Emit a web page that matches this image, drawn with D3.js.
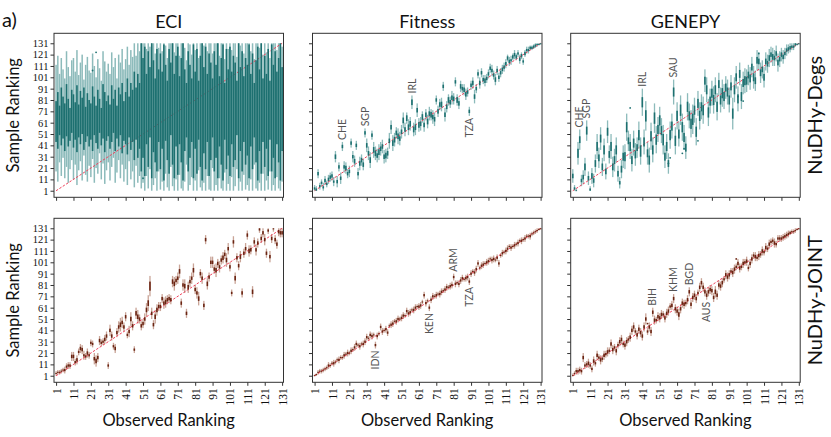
<!DOCTYPE html>
<html>
<head>
<meta charset="utf-8">
<title>Sample vs observed ranking</title>
<script src="https://d3js.org/d3.v7.min.js"></script>
<style>
  body { margin: 0; background: #fff; }
  svg { display: block; }
</style>
</head>
<body>
<script>
// ranking ticks and panel names
var tickVals = [1, 11, 21, 31, 41, 51, 61, 71, 81, 91, 101, 111, 121, 131];
var colNames = ["ECI", "Fitness", "GENEPY"];
var rowNames = ["NuDHy-Degs", "NuDHy-JOINT"];

// ---- NuDHy-Degs / ECI : whisker low, box low, box high, whisker high
var eciDegsLo = [
  18,9,26,14,30,12,22,8,20,28, 11,24,6,19,27,10,32,15,9,23,
  13,29,8,21,16,34,11,25,7,19, 26,10,22,30,8,17,28,12,24,9,
  20,6,27,11,18,4,23,8,14,3, 8,1,14,3,20,1,6,12,1,18,
  2,9,1,16,4,1,22,5,1,11, 1,15,3,1,9,24,1,6,13,1,
  10,1,19,4,1,8,1,14,2,1, 21,1,6,1,12,3,1,17,1,7,
  1,13,1,5,20,1,9,1,15,2, 6,1,11,1,24,3,1,8,1,16,
  1,10,2,18,1,6,1,13,3,1, 9];
var eciDegsQ1 = [
  44,38,50,41,47,36,49,40,45,52, 39,46,35,48,42,51,37,44,49,40,
  46,36,50,43,38,52,41,47,35,45, 49,38,44,52,36,47,40,50,34,45,
  42,33,48,37,44,28,46,30,38,18, 30,14,42,22,48,12,35,26,18,44,
  20,38,10,45,28,16,50,24,12,40, 15,42,26,10,36,48,18,30,44,12,
  38,16,46,22,10,34,20,44,14,28, 48,18,30,12,40,24,10,46,20,32,
  14,42,22,28,50,12,36,18,44,24, 32,12,40,20,48,26,10,36,16,44,
  22,38,14,46,18,30,12,42,26,10, 36];
var eciDegsQ3 = [
  80,88,76,92,84,78,95,82,74,90, 86,79,94,77,89,83,92,75,87,81,
  78,93,84,76,90,82,74,95,88,80, 85,77,94,82,90,76,92,86,96,80,
  88,100,84,96,90,106,92,104,96,131, 118,128,104,124,110,131,116,100,126,108,
  122,106,130,112,98,126,114,131,104,120, 128,102,118,131,108,96,124,112,100,130,
  106,126,98,120,131,110,128,104,122,114, 100,124,112,131,102,118,130,96,126,108,
  128,106,120,114,98,131,110,124,102,118, 112,130,104,122,96,116,128,108,131,100,
  120,104,126,98,130,112,124,106,118,131, 110];
var eciDegsHi = [
  112,120,104,118,108,100,124,110,102,116, 118,106,125,103,114,121,99,112,119,107,
  105,122,111,101,117,109,98,124,115,106, 113,104,123,110,118,100,121,114,126,108,
  117,128,112,125,119,131,120,131,124,131, 131,131,126,131,128,131,131,122,131,127,
  131,124,131,129,118,131,131,131,123,131, 131,120,131,131,127,116,131,130,121,131,
  125,131,118,131,131,129,131,124,131,131, 122,131,131,131,120,131,131,117,131,126,
  131,125,131,131,119,131,129,131,122,131, 131,131,124,131,117,131,131,127,131,121,
  131,123,131,118,131,131,131,125,131,131, 128];
var eciDegsOut = [[22, 107], [24, 123], [51, 12]];

// ---- NuDHy-Degs / Fitness : median, box height (IQR), half whisker span
var fitDegsMed = [
  3,2,16,5,8,4,10,7,11,13, 14,9,31,9,22,12,40,22,21,16,
  18,43,31,27,41,16,25,28,24,52, 41,34,28,50,37,34,32,35,38,40,
  31,32,34,45,57,43,46,52,49,47, 53,63,55,65,57,60,79,55,57,72,
  59,60,66,59,68,62,69,68,66,64, 81,71,77,77,93,68,75,81,79,83,
  82,97,81,78,93,91,90,86,88,71, 94,96,84,91,104,96,105,99,98,100,
  104,109,107,103,99,107,101,105,108,110, 113,118,115,116,119,121,119,122,117,120,
  115,122,125,125,127,127,128,129,130,130, 131];
var fitDegsIqr = [
  2,2,3,2,2,2,3,2,3,3, 3,2,4,3,3,3,3,3,4,3,
  3,3,3,4,3,3,4,4,4,3, 4,4,5,3,5,5,4,5,4,4,
  4,5,4,4,4,5,5,4,5,4, 4,5,4,5,5,5,5,5,5,4,
  5,4,5,4,4,5,4,5,4,4, 3,4,4,5,3,4,4,5,4,4,
  4,3,5,4,4,3,4,4,3,3, 3,4,4,3,3,4,3,3,4,3,
  3,3,3,3,4,3,3,3,3,3, 3,3,3,2,3,3,3,2,3,3,
  2,3,2,2,2,2,2,2,1,1, 1];
var fitDegsWsk = [
  3,3,4,3,3,4,4,3,4,4, 4,4,5,5,4,5,4,5,5,4,
  5,4,5,5,4,5,6,5,5,4, 6,6,7,4,7,6,6,7,6,6,
  6,6,5,7,6,7,6,5,7,6, 6,7,6,5,7,6,6,6,7,6,
  6,6,5,6,5,6,6,5,6,6, 4,5,5,6,4,6,5,5,5,6,
  5,4,5,5,5,4,5,5,4,4, 4,5,6,4,4,5,4,4,5,4,
  4,4,5,4,5,4,4,4,4,4, 4,3,4,4,3,4,3,3,4,3,
  3,3,3,3,2,2,2,2,2,1, 1];
var fitDegsOut = [];
var fitDegsTags = [["CHE", 17], ["SGP", 30], ["IRL", 57], ["TZA", 90]];

// ---- NuDHy-Degs / GENEPY
var genDegsMed = [
  14,3,1,34,46,10,13,22,54,12, 2,14,10,25,40,30,47,22,37,18,
  53,33,40,22,28,37,16,8,20,31, 31,57,45,40,28,43,33,39,50,36,
  79,44,67,34,28,49,37,65,46,55, 63,54,46,31,40,25,50,58,88,45,
  67,51,72,57,48,39,75,67,60,64, 72,53,78,67,75,72,98,90,70,80,
  87,81,90,75,95,81,87,84,92,88, 81,93,69,90,101,82,104,84,96,98,
  98,103,100,110,101,98,116,115,105,108, 101,115,113,118,121,119,118,122,114,117,
  121,119,122,125,126,127,128,128,130,130, 131];
var genDegsIqr = [
  4,2,1,8,6,3,4,6,7,4, 2,5,4,6,8,6,7,6,8,5,
  7,6,8,6,7,8,5,3,6,7, 8,9,6,8,7,8,7,6,9,10,
  9,8,10,7,8,9,8,10,9,8, 9,8,10,7,8,6,9,8,8,9,
  9,8,10,9,8,7,9,8,9,10, 8,9,8,9,8,9,7,8,9,8,
  8,9,8,9,7,8,9,8,7,8, 8,7,9,8,7,8,7,8,7,8,
  7,6,7,6,7,6,6,5,6,5, 6,5,5,5,4,5,4,4,5,4,
  4,4,3,3,3,3,2,2,2,1, 1];
var genDegsWsk = [
  6,3,2,10,9,5,6,8,9,6, 3,7,6,8,11,9,10,8,10,7,
  10,8,11,9,10,11,7,5,8,10, 11,12,9,11,10,11,10,9,12,12,
  12,11,13,10,11,12,11,13,12,11, 12,11,13,10,11,9,12,11,11,12,
  12,11,13,12,11,10,12,11,12,13, 11,12,11,12,11,12,10,11,12,11,
  11,12,11,12,10,11,12,11,10,11, 11,10,14,11,10,11,10,11,10,11,
  10,9,10,9,10,9,9,8,9,8, 9,8,8,8,7,8,7,7,8,7,
  6,6,5,5,4,4,3,3,2,1, 1];
var genDegsOut = [[34, 74], [56, 25], [57, 30], [64, 34], [65, 38], [73, 45], [96, 84], [99, 80], [108, 122]];
var genDegsTags = [["CHE", 5], ["SGP", 9], ["IRL", 41], ["SAU", 59]];

// ---- NuDHy-JOINT / ECI
var eciJointMed = [
  3,4,4,5,6,6,9,10,10,18, 18,13,15,22,25,24,19,18,21,19,
  30,29,16,14,17,32,30,31,33,36, 10,41,36,27,25,39,44,46,48,44,
  53,37,40,51,45,24,56,53,51,45, 47,51,59,65,80,56,46,53,59,62,
  62,69,65,66,68,69,68,84,82,85, 87,93,65,81,80,56,79,84,87,94,
  77,74,69,91,87,63,121,82,88,101, 101,95,94,100,97,103,105,108,103,113,
  97,74,119,87,105,98,106,74,109,113, 125,111,112,75,119,112,118,130,122,127,
  121,109,129,106,122,131,121,117,128,127, 127];
var eciJointIqr = [
  1,1,1,1,1,2,2,2,2,3, 3,2,3,2,3,3,2,2,3,2,
  2,2,3,4,3,3,2,2,3,3, 2,3,3,2,3,3,3,4,3,3,
  3,2,3,4,3,2,4,4,3,3, 3,3,4,5,8,3,3,4,4,3,
  3,3,3,4,3,3,3,4,4,3, 3,4,3,3,4,3,4,3,3,4,
  3,3,4,3,3,3,3,4,3,3, 3,3,4,3,3,3,4,3,4,3,
  3,2,3,4,3,3,4,3,3,3, 3,4,3,4,3,3,3,2,3,3,
  3,3,2,3,3,2,3,3,3,3, 3];
var eciJointWsk = [
  2,2,2,2,2,3,3,3,3,4, 4,3,4,3,4,4,4,3,4,3,
  3,3,5,5,4,4,3,3,4,4, 3,5,4,3,4,4,5,6,5,4,
  4,3,5,6,4,3,5,6,4,4, 4,5,6,7,9,5,4,6,5,4,
  4,4,5,5,4,4,4,5,6,4, 5,6,4,5,6,4,5,5,5,6,
  4,5,6,4,5,4,4,5,4,5, 5,4,6,4,5,4,5,4,6,5,
  4,3,5,5,4,4,5,4,4,5, 4,5,4,5,4,5,4,3,4,4,
  5,4,3,5,4,3,4,4,4,4, 4];
var eciJointOut = [];

// ---- NuDHy-JOINT / Fitness
var fitJointMed = [
  1,2,4,5,5,6,7,8,10,10, 12,12,13,15,15,17,17,19,20,21,
  21,23,24,26,29,28,27,29,29,31, 35,34,37,36,37,28,36,38,44,40,
  41,42,39,45,46,47,49,49,51,51, 52,54,54,58,56,57,59,59,61,62,
  62,63,66,72,65,67,61,68,71,71, 72,73,73,75,76,77,79,79,80,81,
  88,82,83,82,85,87,86,87,88,84, 91,93,92,95,100,96,98,99,100,101,
  102,104,103,104,103,105,100,107,109,110, 111,113,115,114,115,116,117,118,120,120,
  121,122,124,124,124,126,127,128,129,130, 131];
var fitJointIqr = [
  1,1,1,1,1,1,1,1,2,1, 1,2,1,1,2,1,1,2,1,2,
  1,2,1,2,2,1,2,1,2,2, 2,1,2,2,1,2,2,1,2,2,
  1,2,2,1,2,2,1,2,2,1, 2,2,1,2,2,2,1,2,2,1,
  2,2,1,2,2,1,2,2,2,1, 2,1,2,2,1,2,2,1,2,2,
  2,2,1,2,2,2,1,2,2,2, 2,1,2,2,2,1,2,2,1,2,
  2,1,2,2,1,2,2,1,2,1, 2,2,1,2,1,2,1,2,1,2,
  1,2,1,1,2,1,1,1,1,1, 1];
var fitJointWsk = [
  1,1,2,2,2,2,2,2,3,2, 2,3,2,2,3,2,2,3,2,3,
  2,3,2,3,3,2,3,2,3,3, 3,2,3,3,2,3,3,2,3,3,
  2,3,3,2,3,3,2,3,3,2, 3,3,2,3,3,3,2,3,3,2,
  3,3,2,3,3,2,3,3,3,2, 3,2,3,3,2,3,3,2,3,3,
  3,3,2,3,3,3,2,3,3,3, 3,2,3,3,3,2,3,3,2,3,
  3,2,3,3,2,3,3,2,3,2, 3,3,2,3,2,3,2,3,2,3,
  2,3,2,2,3,2,2,2,2,1, 1];
var fitJointOut = [];
var fitJointTags = [["IDN", 36], ["KEN", 67], ["ARM", 81], ["TZA", 90]];

// ---- NuDHy-JOINT / GENEPY
var genJointMed = [
  1,3,5,5,6,5,17,10,11,12, 10,7,14,12,19,17,15,16,19,20,
  22,23,29,24,26,23,28,31,33,29, 28,31,33,35,41,44,40,37,42,39,
  36,44,51,40,44,40,57,50,50,53, 52,55,55,52,56,58,62,63,69,60,
  58,55,60,65,64,65,68,75,64,70, 72,69,74,79,83,79,75,72,75,77,
  76,70,75,72,81,80,83,86,90,88, 90,93,92,95,97,100,96,97,100,101,
  102,96,100,104,107,106,105,107,108,111, 110,114,113,117,119,120,118,117,122,122,
  122,123,124,125,126,127,128,128,129,130, 131];
var genJointIqr = [
  1,1,2,2,2,2,3,2,2,3, 2,2,3,2,3,2,3,2,3,2,
  3,2,3,3,2,3,2,3,3,2, 3,3,2,3,3,3,2,3,3,3,
  3,3,3,2,3,3,3,3,2,3, 3,3,2,3,3,3,2,3,3,3,
  3,4,3,3,3,2,3,3,3,3, 3,3,2,3,3,3,3,3,3,3,
  3,3,4,3,3,3,3,2,3,3, 3,2,3,3,2,3,3,2,3,2,
  3,2,3,3,2,3,2,3,2,3, 2,3,2,3,2,2,3,2,2,2,
  2,2,2,2,2,2,1,1,1,1, 1];
var genJointWsk = [
  2,2,3,3,3,3,4,3,3,4, 3,3,4,3,4,3,4,3,4,3,
  4,3,4,4,3,4,3,4,4,3, 4,4,3,4,4,4,3,4,4,4,
  4,4,5,3,4,4,4,4,3,4, 4,4,3,4,4,4,3,4,4,4,
  4,5,4,4,4,3,4,4,4,4, 4,4,3,4,4,4,4,4,4,4,
  4,4,5,4,4,4,4,3,4,4, 4,3,4,4,3,4,4,3,4,3,
  4,3,4,4,3,4,3,4,3,4, 3,4,3,4,3,3,4,3,3,3,
  3,3,3,3,3,2,2,2,2,1, 1];
var genJointOut = [[95, 104], [44, 47]];
var genJointTags = [["BIH", 47], ["KHM", 59], ["BGD", 68], ["AUS", 78]];

// ------------------------------------------------------------------
function statsFromSpread(med, iqr, wsk) {
  return med.map(function(m, i) {
    return {
      u: i + 1, med: m,
      lo: Math.max(1, m - wsk[i]), hi: Math.min(131, m + wsk[i]),
      q1: Math.max(1, m - iqr[i] / 2), q3: Math.min(131, m + iqr[i] / 2)
    };
  });
}
function statsFromQuartiles(lo, q1, q3, hi) {
  return lo.map(function(l, i) {
    return {u: i + 1, med: (q1[i] + q3[i]) / 2, lo: l, q1: q1[i], q3: q3[i], hi: hi[i]};
  });
}

var panels = [
  {row: 0, col: 0, rows: statsFromQuartiles(eciDegsLo, eciDegsQ1, eciDegsQ3, eciDegsHi), out: eciDegsOut, tags: []},
  {row: 0, col: 1, rows: statsFromSpread(fitDegsMed, fitDegsIqr, fitDegsWsk), out: fitDegsOut, tags: fitDegsTags},
  {row: 0, col: 2, rows: statsFromSpread(genDegsMed, genDegsIqr, genDegsWsk), out: genDegsOut, tags: genDegsTags},
  {row: 1, col: 0, rows: statsFromSpread(eciJointMed, eciJointIqr, eciJointWsk), out: eciJointOut, tags: []},
  {row: 1, col: 1, rows: statsFromSpread(fitJointMed, fitJointIqr, fitJointWsk), out: fitJointOut, tags: fitJointTags},
  {row: 1, col: 2, rows: statsFromSpread(genJointMed, genJointIqr, genJointWsk), out: genJointOut, tags: genJointTags}
];

var rowColors = [
  {dark: "#1d7070", light: "#8dbbbb"},
  {dark: "#6a2412", light: "#c9a497"}
];

var W = 229.5, H = 164;
var lefts = [54, 312.5, 570.7];
var tops = [33.3, 218.3];
var sans = "Lato, 'Open Sans', sans-serif";
var serif = "'Liberation Serif', 'DejaVu Serif', serif";

var svg = d3.select("body").append("svg").attr("width", 831).attr("height", 437);
svg.append("rect").attr("width", 831).attr("height", 437).attr("fill", "#fff");

var x = d3.scaleLinear().domain([-0.2, 131.8]).range([0, W]);
var y = d3.scaleLinear().domain([-4.8, 139.8]).range([H, 0]);

panels.forEach(function(p) {
  var c = rowColors[p.row];
  var g = svg.append("g").attr("transform", "translate(" + lefts[p.col] + "," + tops[p.row] + ")");
  var rows = p.rows;
  var ww = p.row === 0 && p.col === 0 ? 1.5 : 1.3;

  // whiskers
  g.selectAll("rect.wh").data(rows).join("rect")
    .attr("class", "wh")
    .attr("x", function(d) { return x(d.u) - ww / 2; })
    .attr("width", ww)
    .attr("y", function(d) { return y(d.hi); })
    .attr("height", function(d) { return Math.max(0.8, y(d.lo) - y(d.hi)); })
    .attr("fill", c.light);

  // diagonal (drawn under the boxes)
  g.append("path")
    .attr("d", d3.line().x(function(d) { return x(d); }).y(function(d) { return y(d); })([1, 131]))
    .attr("stroke", "#f0405a")
    .attr("stroke-width", 1)
    .attr("stroke-dasharray", "2.4,1.6")
    .attr("fill", "none");

  // boxes
  g.selectAll("rect.bx").data(rows).join("rect")
    .attr("class", "bx")
    .attr("x", function(d) { return x(d.u) - 0.8; })
    .attr("width", 1.6)
    .attr("y", function(d) { return y(d.q3); })
    .attr("height", function(d) { return Math.max(1, y(d.q1) - y(d.q3)); })
    .attr("fill", c.dark);

  // fliers
  g.selectAll("circle.fl").data(p.out).join("circle")
    .attr("class", "fl")
    .attr("cx", function(d) { return x(d[0]); })
    .attr("cy", function(d) { return y(d[1]); })
    .attr("r", 0.9)
    .attr("fill", c.dark);

  // country tags
  p.tags.forEach(function(t) {
    var d = rows[t[1] - 1];
    var above = d.med > d.u;
    g.append("text")
      .attr("transform", "translate(" + x(d.u) + "," + (above ? y(d.hi) - 2 : y(d.lo) + 2) + ") rotate(-90)")
      .attr("dy", "0.35em")
      .attr("text-anchor", above ? "start" : "end")
      .attr("font-family", sans)
      .attr("font-size", "10.5px")
      .attr("fill", "#555")
      .text(t[0]);
  });

  // axes
  var ax = g.append("g").attr("transform", "translate(0," + H + ")")
    .call(d3.axisBottom(x).tickValues(tickVals).tickSize(3.5).tickPadding(2)
      .tickFormat(p.row === 1 ? d3.format("d") : function() { return ""; }));
  var ay = g.append("g")
    .call(d3.axisLeft(y).tickValues(tickVals).tickSize(3.5).tickPadding(2)
      .tickFormat(p.col === 0 ? d3.format("d") : function() { return ""; }));
  [ax, ay].forEach(function(a) {
    a.select(".domain").remove();
    a.selectAll("line").attr("stroke", "#333");
    a.selectAll("text").attr("font-family", serif).attr("font-size", "10.5px").attr("fill", "#111");
  });
  ax.selectAll("text")
    .attr("font-size", "11.5px")
    .attr("y", 0).attr("x", -6).attr("dy", "0.35em")
    .attr("transform", "rotate(-90)")
    .attr("text-anchor", "end");

  g.append("rect").attr("width", W).attr("height", H)
    .attr("fill", "none").attr("stroke", "#333").attr("stroke-width", 1);

  if (p.row === 0) {
    svg.append("text").attr("x", lefts[p.col] + W / 2).attr("y", 28)
      .attr("text-anchor", "middle").attr("font-family", sans).attr("font-size", "18px")
      .attr("fill", "#111").text(colNames[p.col]);
  }
  if (p.row === 1) {
    svg.append("text").attr("x", lefts[p.col] + W / 2).attr("y", 426)
      .attr("text-anchor", "middle").attr("font-family", sans).attr("font-size", "16.5px")
      .attr("fill", "#111").text("Observed Ranking");
  }
  if (p.col === 0) {
    svg.append("text")
      .attr("transform", "translate(19," + (tops[p.row] + H / 2) + ") rotate(-90)")
      .attr("text-anchor", "middle").attr("font-family", sans).attr("font-size", "16.5px")
      .attr("fill", "#111").text("Sample Ranking");
  }
  if (p.col === 2) {
    svg.append("text")
      .attr("transform", "translate(822," + (tops[p.row] + H / 2) + ") rotate(-90)")
      .attr("text-anchor", "middle").attr("font-family", sans).attr("font-size", "20px")
      .attr("fill", "#111").text(rowNames[p.row]);
  }
});

svg.append("text").attr("x", 2).attr("y", 27)
  .attr("font-family", sans).attr("font-size", "20px").attr("fill", "#111").text("a)");
</script>
</body>
</html>
